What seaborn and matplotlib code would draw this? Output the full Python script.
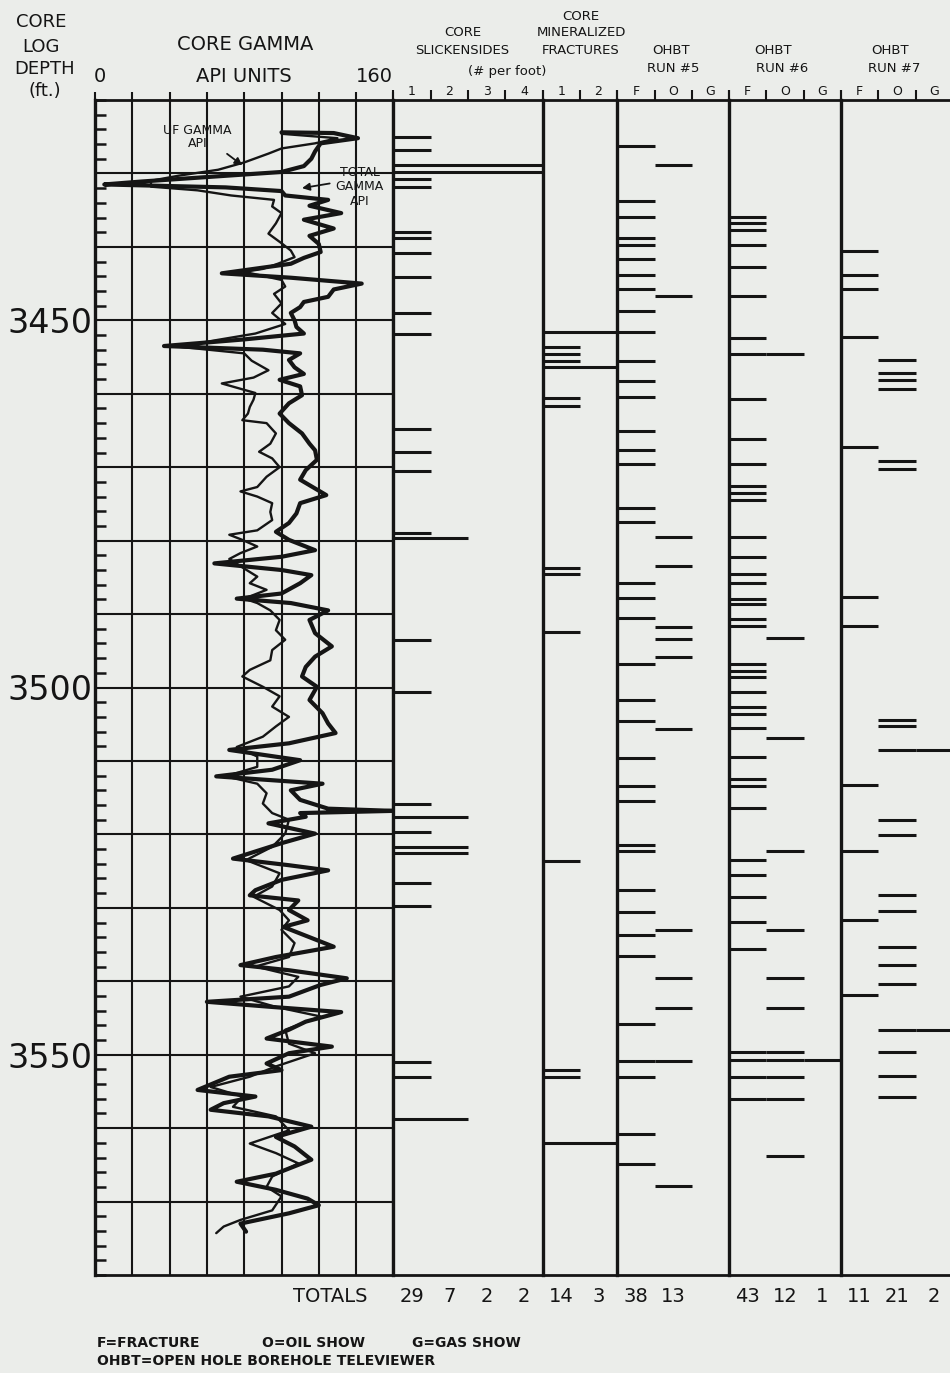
import numpy as np
import matplotlib
matplotlib.use("Agg")
import matplotlib.pyplot as plt
import seaborn as sns

total_depth = [3424.4, 3424.5, 3425.2, 3425.9, 3427.0, 3428.0, 3429.0, 3429.8, 3430.5, 3431.1,
               3431.5, 3431.9, 3432.4, 3433.0, 3433.6, 3434.4, 3435.4, 3436.3, 3437.5, 3438.5,
               3439.6, 3440.7, 3441.5, 3442.3, 3443.0, 3443.6, 3444.2, 3445.0, 3445.8, 3446.8,
               3447.5, 3448.2, 3449.0, 3450.0, 3450.9, 3451.8, 3452.6, 3453.5, 3454.0, 3454.5,
               3455.4, 3456.4, 3457.3,
               3458.1, 3459.0, 3460.2, 3461.3, 3462.7, 3464.0, 3465.4, 3466.8, 3467.7, 3469.0,
               3470.4, 3471.7, 3473.8, 3474.9, 3476.3, 3477.6, 3478.8, 3479.9, 3481.3, 3482.2,
               3483.1, 3484.0, 3484.7, 3485.8, 3487.2, 3487.9, 3488.5, 3489.5, 3490.8, 3492.6,
               3494.4, 3495.8, 3497.2, 3498.5, 3499.9, 3501.7, 3503.5, 3504.9, 3506.2, 3507.6,
               3508.5, 3509.9, 3511.2, 3512.1, 3513.1, 3514.0, 3515.3, 3516.5, 3516.8, 3517.1,
               3517.6, 3518.5, 3519.9, 3521.2, 3523.3, 3524.2, 3524.9, 3526.2, 3527.6, 3528.3,
               3529.0, 3530.3, 3531.7, 3532.6, 3533.9, 3535.3, 3536.7, 3537.8, 3538.5, 3539.6,
               3540.5, 3542.1, 3542.8, 3543.5, 3544.2, 3545.5, 3546.6, 3547.8, 3548.9, 3549.8,
               3551.2, 3552.1, 3553.0, 3554.8, 3555.7, 3556.6, 3557.5, 3558.4, 3559.8, 3561.2,
               3562.5, 3564.3, 3566.2, 3567.3, 3568.4, 3569.6, 3570.5, 3571.6, 3573.0, 3574.1]
total_api = [100, 128, 141, 121, 118, 116, 112, 100, 60, 25,
             5, 70, 100, 102, 125, 115, 132, 112, 128, 115,
             120, 121, 112, 105, 85, 68, 105, 143, 128, 125,
             112, 110, 105, 107, 108, 112, 80, 37, 90, 110,
             104, 107, 112,
             99, 110, 111, 104, 99, 104, 111, 115, 118, 119,
             113, 110, 124, 110, 108, 104, 97, 104, 118, 100,
             64, 100, 116, 110, 100, 76, 105, 125, 115, 118,
             127, 118, 113, 111, 119, 115, 122, 125, 129, 104,
             72, 110, 95, 65, 122, 105, 110, 125, 160, 110,
             113, 93, 118, 100, 74, 104, 125, 100, 86, 83,
             109, 104, 114, 101, 114, 128, 97, 78, 104, 135,
             121, 104, 60, 95, 132, 113, 104, 92, 127, 104,
             92, 100, 72, 55, 86, 69, 62, 93, 116, 97,
             107, 116, 97, 76, 97, 114, 120, 104, 78, 81]

uf_depth = [3424.6, 3425.2, 3425.9, 3426.6, 3427.3, 3428.5, 3429.5, 3430.3, 3431.0, 3431.8,
            3432.3, 3433.0, 3433.6, 3434.5, 3435.4, 3436.8, 3438.2, 3439.5, 3440.5, 3441.4,
            3442.3, 3443.0, 3443.4, 3444.5, 3445.4, 3446.4, 3447.7, 3449.0, 3450.5, 3451.8,
            3452.7, 3453.6, 3454.5, 3455.5, 3456.8, 3457.8, 3458.6,
            3459.9, 3460.8, 3461.8, 3462.7, 3463.6, 3464.0, 3465.4, 3466.8, 3467.9, 3468.8,
            3470.0, 3471.3, 3472.7, 3473.3, 3474.0, 3474.9, 3476.1, 3477.2, 3478.6, 3479.2,
            3479.9, 3480.8, 3481.7, 3482.5, 3483.8, 3484.9, 3485.8, 3486.7, 3487.9, 3488.5,
            3489.5, 3490.8, 3492.2, 3493.5, 3494.9, 3496.3, 3497.6, 3498.5, 3499.9, 3501.2,
            3502.6, 3504.0, 3505.3, 3506.7, 3508.1, 3509.4, 3510.8, 3512.1, 3513.1, 3514.4,
            3515.8, 3517.1,
            3518.0, 3519.9, 3521.7, 3523.5, 3525.3, 3527.1, 3528.5, 3530.3, 3531.7, 3533.0,
            3534.8, 3536.7, 3538.0, 3539.4, 3540.7, 3542.1, 3543.5, 3544.8, 3546.6, 3548.5,
            3549.8, 3551.6, 3553.0, 3554.4, 3555.7, 3557.1, 3558.4, 3560.3, 3562.1, 3563.4,
            3564.8, 3566.6, 3568.0, 3569.3, 3571.2, 3572.5, 3573.4, 3574.3]
uf_api = [100, 130, 118, 100, 93, 80, 66, 45, 30, 30,
          55, 73, 96, 95, 100, 97, 93, 100, 105, 107,
          98, 90, 80, 100, 102, 96, 100, 95, 102, 86,
          65, 45, 80, 84, 93, 85, 68,
          86, 85, 83, 82, 79, 92, 97, 94, 88, 95,
          99, 92, 87, 78, 87, 95, 94, 95, 87, 72,
          79, 87, 78, 72, 80, 87, 83, 92, 80, 87,
          94, 99, 97, 102, 95, 94, 83, 79, 90, 99,
          95, 104, 97, 90, 76, 87, 87, 70, 87, 92,
          90, 95,
          104, 102, 95, 81, 99, 95, 85, 99, 104, 100,
          107, 104, 86, 109, 104, 78, 97, 121, 102, 104,
          118, 97, 83, 62, 79, 74, 97, 104, 83, 97,
          109, 95, 92, 100, 95, 78, 69, 65]

# core slickensides: depth and number per foot
slick_depth = [3425.1, 3426.8, 3428.9, 3429.8, 3430.7, 3431.9, 3438.0, 3438.8, 3440.9, 3444.1,
               3449.0, 3451.8, 3464.8, 3467.9, 3470.5, 3479.0, 3479.7, 3493.5, 3500.6, 3515.8,
               3517.7, 3519.7, 3521.7, 3522.5, 3526.6, 3529.8, 3551.0, 3553.1, 3558.8]
slick_count = [1, 1, 4, 4, 1, 1, 1, 1, 1, 1,
               1, 1, 1, 1, 1, 1, 2, 1, 1, 1,
               2, 1, 2, 2, 1, 1, 1, 1, 2]

# core mineralized fractures
mineral_depth = [3451.6, 3453.6, 3454.6, 3455.6, 3456.3, 3460.6, 3461.7, 3483.7, 3484.5, 3492.5,
                 3523.6, 3552.1, 3553.1, 3562.0]
mineral_count = [2, 1, 1, 1, 2, 1, 1, 1, 1, 1, 1, 1, 1, 2]

# OHBT televiewer picks (F = fracture, O = oil show, G = gas show)
run5_f = [3426.2, 3433.8, 3435.9, 3438.8, 3439.7, 3441.7, 3443.8, 3445.8, 3448.7, 3451.6,
          3455.5, 3458.2, 3460.5, 3465.1, 3467.7, 3469.5, 3475.6, 3477.5, 3485.8, 3487.8,
          3490.6, 3496.8, 3501.7, 3504.5, 3509.6, 3513.4, 3515.5, 3521.5, 3522.3, 3527.6,
          3530.6, 3533.7, 3536.5, 3545.8, 3550.9, 3553.0, 3560.8, 3564.9]
run5_o = [3428.8, 3446.7, 3479.5, 3483.5, 3491.8, 3493.4, 3495.8, 3505.6, 3533.0, 3539.5,
          3543.7, 3550.9, 3567.9]
run5_g = []

run6_f = [3435.9, 3436.8, 3437.7, 3439.8, 3442.7, 3446.7, 3452.4, 3454.6, 3460.7, 3466.1,
          3469.5, 3472.5, 3473.5, 3474.5, 3479.5, 3482.2, 3484.5, 3485.8, 3487.9, 3488.6,
          3490.7, 3491.6, 3496.8, 3497.7, 3498.6, 3500.6, 3502.6, 3503.6, 3505.5, 3509.5,
          3512.5, 3513.4, 3516.4, 3523.5, 3525.5, 3528.5, 3531.9, 3535.6, 3549.7, 3550.7,
          3553.0, 3556.0]
run6_o = [3454.6, 3493.3, 3506.9, 3522.3, 3533.0, 3539.6, 3543.7, 3549.7, 3550.7, 3553.0,
          3556.0, 3563.8]
run6_g = [3550.7]

run7_f = [3440.5, 3443.8, 3445.7, 3452.3, 3467.3, 3487.7, 3491.6, 3513.3, 3522.3, 3531.6,
          3541.9]
run7_o = [3455.4, 3457.2, 3458.1, 3459.4, 3469.2, 3470.3, 3504.4, 3505.2, 3508.5, 3518.1,
          3520.1, 3528.2, 3530.4, 3535.3, 3537.8, 3540.4, 3546.7, 3549.6, 3552.9, 3555.8]
run7_g = [3508.5, 3546.7]

slick_cols = ["1", "2", "3", "4"]
mineral_cols = ["1", "2"]
ohbt_cols = ["F", "O", "G"]

slick_totals = ["29", "7", "2", "2"]
mineral_totals = ["14", "3"]
run5_totals = ["38", "13", ""]
run6_totals = ["43", "12", "1"]
run7_totals = ["11", "21", "2"]

depth_top, depth_bottom = 3420, 3580
depth_labels = [3450, 3500, 3550]

# ---------------- figure ----------------
sns.set_theme(style="white")
plt.rcParams["font.family"] = ["DejaVu Sans"]

INK = "#151515"
PAPER = "#ebedea"
W, H = 950, 1373
fig = plt.figure(figsize=(W / 100, H / 100), dpi=100)
fig.patch.set_facecolor(PAPER)

TOP, BOT = 100, 1275
UNIT = 37.3
LEFT = 95


def track(x0, ncols):
    ax = fig.add_axes([x0 / W, 1 - BOT / H, ncols * UNIT / W, (BOT - TOP) / H])
    ax.set_facecolor(PAPER)
    ax.set_ylim(depth_bottom, depth_top)
    ax.set_xlim(0, ncols)
    for side in ["left", "top", "bottom"]:
        ax.spines[side].set_color(INK)
        ax.spines[side].set_linewidth(2.0)
    ax.spines["right"].set_visible(False)
    ax.spines["left"].set_linewidth(2.4)
    ax.set_yticks([])
    return ax


def column_labels(ax, labels):
    n = len(labels)
    ax.xaxis.tick_top()
    ax.set_xticks(np.arange(n) + 0.5, labels)
    ax.set_xticks(np.arange(n + 1), minor=True)
    ax.tick_params(axis="x", which="major", length=0, pad=1.5, labelsize=9, colors=INK)
    ax.tick_params(axis="x", which="minor", top=True, bottom=False, length=7,
                   width=1.5, color=INK, direction="out")


def totals(ax, values):
    for i, s in enumerate(values):
        ax.text(i + 0.5, -0.018, s, transform=ax.get_xaxis_transform(),
                ha="center", va="center", fontsize=14, color=INK)


# gamma track
ax_g = track(LEFT, 8)
ax_g.set_xlim(0, 160)
sns.lineplot(x=uf_api, y=uf_depth, orient="y", sort=False, estimator=None,
             color=INK, lw=1.7, ax=ax_g)
sns.lineplot(x=total_api, y=total_depth, orient="y", sort=False, estimator=None,
             color=INK, lw=3.0, ax=ax_g)
ax_g.set_ylim(depth_bottom, depth_top)
ax_g.set_xlabel("")
ax_g.set_ylabel("")
ax_g.set_axisbelow(True)
ax_g.xaxis.tick_top()
ax_g.set_xticks(np.arange(0, 161, 20), [""] * 9)
ax_g.tick_params(axis="x", top=True, bottom=False, length=6, width=1.5,
                 color=INK, direction="out")
grid_depths = np.arange(depth_top + 10, depth_bottom, 10)
ax_g.set_yticks(grid_depths, [str(d) if d in depth_labels else "" for d in grid_depths])
ax_g.set_yticks(np.arange(depth_top, depth_bottom + 1, 2), minor=True)
ax_g.tick_params(axis="y", which="major", length=0, pad=2, labelsize=24, colors=INK)
ax_g.tick_params(axis="y", which="minor", left=True, right=False, direction="in",
                 length=8, width=1.8, color=INK)
ax_g.grid(True, which="major", color=INK, lw=1.5)

ax_g.annotate("UF GAMMA\nAPI", xy=(79, 3428.9), xytext=(55, 3425.0),
              ha="center", va="center", fontsize=9, color=INK, linespacing=1.0,
              arrowprops=dict(arrowstyle="-|>", color=INK, lw=1.3, mutation_scale=11,
                              relpos=(0.75, 0.2), shrinkA=1, shrinkB=0))
ax_g.annotate("TOTAL\nGAMMA\nAPI", xy=(111, 3432.0), xytext=(142, 3431.8),
              ha="center", va="center", fontsize=9, color=INK, linespacing=1.15,
              arrowprops=dict(arrowstyle="-|>", color=INK, lw=1.3, mutation_scale=11,
                              relpos=(0.0, 0.6), shrinkA=2, shrinkB=0))
ax_g.text(126, -0.018, "TOTALS", transform=ax_g.get_xaxis_transform(),
          ha="center", va="center", fontsize=14, color=INK)

# slickensides
x0 = LEFT + 8 * UNIT
ax_s = track(x0, 4)
ax_s.hlines(slick_depth, 0, slick_count, color=INK, lw=2.2)
column_labels(ax_s, slick_cols)
totals(ax_s, slick_totals)

# mineralized fractures
x0 += 4 * UNIT
ax_m = track(x0, 2)
ax_m.hlines(mineral_depth, 0, mineral_count, color=INK, lw=2.2)
column_labels(ax_m, mineral_cols)
totals(ax_m, mineral_totals)

# OHBT runs
x0 += 2 * UNIT
for picks, tot in [((run5_f, run5_o, run5_g), run5_totals),
                   ((run6_f, run6_o, run6_g), run6_totals),
                   ((run7_f, run7_o, run7_g), run7_totals)]:
    ax = track(x0, 3)
    for col, depths in enumerate(picks):
        if depths:
            ax.hlines(depths, col, col + 1, color=INK, lw=2.2)
    column_labels(ax, ohbt_cols)
    totals(ax, tot)
    x0 += 3 * UNIT


# ---------------- header / footer text ----------------
def ftxt(x, y, s, size, ha="center", **kw):
    fig.text(x / W, 1 - y / H, s, ha=ha, va="center", fontsize=size, color=INK, **kw)


ftxt(41, 22, "CORE", 13)
ftxt(41, 47, "LOG", 13)
ftxt(45, 69, "DEPTH", 13)
ftxt(45, 91, "(ft.)", 13)
ftxt(245, 44, "CORE GAMMA", 14)
ftxt(244, 76, "API UNITS", 14)
ftxt(100, 76, "0", 14)
ftxt(374, 76, "160", 14)

ftxt(463, 33, "CORE", 9.5)
ftxt(462, 50, "SLICKENSIDES", 9.5)
ftxt(507, 72, "(# per foot)", 9.5)
ftxt(581, 17, "CORE", 9.5)
ftxt(581, 33, "MINERALIZED", 9.5)
ftxt(581, 50, "FRACTURES", 9.5)
ftxt(671, 50, "OHBT", 9.5)
ftxt(673, 68, "RUN #5", 9.5)
ftxt(773, 50, "OHBT", 9.5)
ftxt(782, 68, "RUN #6", 9.5)
ftxt(890, 50, "OHBT", 9.5)
ftxt(894, 68, "RUN #7", 9.5)

ftxt(97, 1343, "F=FRACTURE", 10, ha="left", fontweight="bold")
ftxt(262, 1343, "O=OIL SHOW", 10, ha="left", fontweight="bold")
ftxt(412, 1343, "G=GAS SHOW", 10, ha="left", fontweight="bold")
ftxt(97, 1361, "OHBT=OPEN HOLE BOREHOLE TELEVIEWER", 10, ha="left", fontweight="bold")

fig.savefig("out.png", dpi=100, facecolor=PAPER)
